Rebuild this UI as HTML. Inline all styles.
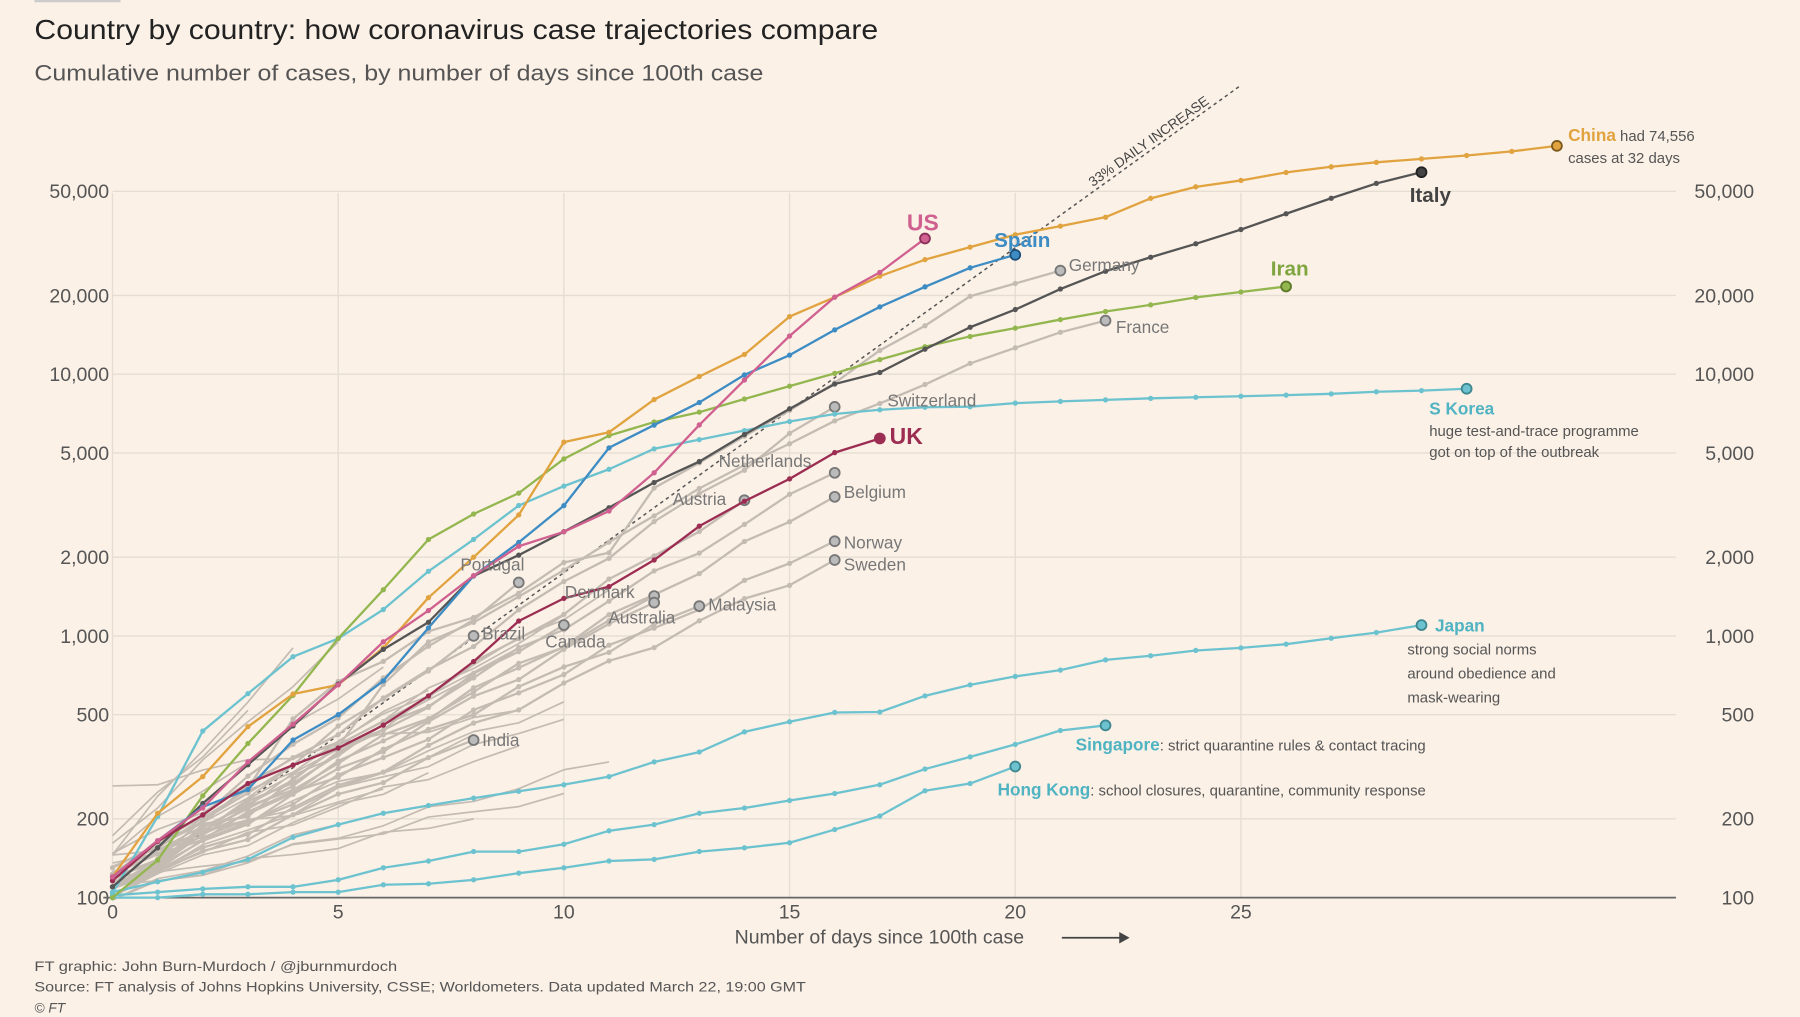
<!DOCTYPE html>
<html><head><meta charset="utf-8"><style>
html,body{margin:0;padding:0;background:#fbf1e7;}
svg{display:block}
text{font-family:"Liberation Sans",sans-serif;}
</style></head><body>
<svg id="c" width="1800" height="1017" viewBox="0 0 1568 886" preserveAspectRatio="none" xmlns="http://www.w3.org/2000/svg">
<rect width="1568" height="886" fill="#fbf1e7"/>
<rect x="30" y="0" width="75" height="2" fill="#ccc"/>
<text x="30" y="34" font-size="24" fill="#222" textLength="735" lengthAdjust="spacingAndGlyphs">Country by country: how coronavirus case trajectories compare</text>
<text x="30" y="70" font-size="19" fill="#555" textLength="635" lengthAdjust="spacingAndGlyphs">Cumulative number of cases, by number of days since 100th case</text>
<g id="grid"></g>
<g id="gray"></g>
<g id="main"></g>
<g id="labels" font-size="15" fill="#777"></g>
<text x="30" y="846" font-size="12" fill="#555" textLength="316" lengthAdjust="spacingAndGlyphs">FT graphic: John Burn-Murdoch / @jburnmurdoch</text>
<text x="30" y="864" font-size="12" fill="#555" textLength="672" lengthAdjust="spacingAndGlyphs">Source: FT analysis of Johns Hopkins University, CSSE; Worldometers. Data updated March 22, 19:00 GMT</text>
<text x="30" y="882" font-size="12" fill="#555" font-style="italic">© FT</text>
</svg>
<script>
var NS="http://www.w3.org/2000/svg";
function X(d){return 98+39.32*d;}
function Y(v){return 782-228*Math.log10(v/100);}
function el(p,t,a,txt){var e=document.createElementNS(NS,t);for(var k in a)e.setAttribute(k,a[k]);if(txt!==undefined)e.textContent=txt;p.appendChild(e);return e;}
var grid=document.getElementById('grid'),gray=document.getElementById('gray'),main=document.getElementById('main'),lab=document.getElementById('labels');
var ticks=[[100,"100"],[200,"200"],[500,"500"],[1000,"1,000"],[2000,"2,000"],[5000,"5,000"],[10000,"10,000"],[20000,"20,000"],[50000,"50,000"]];
ticks.forEach(function(t){var y=Y(t[0]);
 if(t[0]>100)el(grid,'line',{x1:98,x2:1460,y1:y,y2:y,stroke:'#e6ddd3','stroke-width':1.2});
 el(grid,'text',{x:95,y:y+6,'text-anchor':'end','font-size':17,fill:'#555'},t[1]);
 el(grid,'text',{x:1528,y:y+6,'text-anchor':'end','font-size':17,fill:'#555'},t[1]);});
for(var d=0;d<=25;d+=5){el(grid,'line',{x1:X(d),x2:X(d),y1:168,y2:782,stroke:'#e6ddd3','stroke-width':1.2});
 el(grid,'text',{x:X(d),y:800,'text-anchor':'middle','font-size':17,fill:'#555'},String(d));}
el(grid,'line',{x1:90,x2:1460,y1:782,y2:782,stroke:'#666','stroke-width':1.5});
el(grid,'text',{x:766,y:822,'text-anchor':'middle','font-size':17,fill:'#555'},"Number of days since 100th case");
el(grid,'line',{x1:925,x2:980,y1:817,y2:817,stroke:'#444','stroke-width':1.5});
el(grid,'path',{d:'M975,812 L984,817 L975,822 Z',fill:'#444'});
el(grid,'line',{x1:98,y1:782,x2:1080,y2:75,stroke:'#555','stroke-width':1.3,'stroke-dasharray':'3,3'});
el(grid,'text',{x:0,y:0,'font-size':12,fill:'#444',transform:'translate(952,163) rotate(-35.7)'},"33% DAILY INCREASE");

function series(p,vals,col,end,w,mk){var pts=vals.map(function(v,i){return X(i).toFixed(1)+','+Y(v).toFixed(1);});
 el(p,'polyline',{points:pts.join(' '),fill:'none',stroke:col,'stroke-width':w||2,'stroke-linejoin':'round'});
 if(mk!==false)vals.forEach(function(v,i){el(p,'circle',{cx:X(i),cy:Y(v),r:2.3,fill:col});});
 if(end){var i=vals.length-1;el(p,'circle',{cx:X(i),cy:Y(vals[i]),r:4.3,fill:end[0],stroke:end[1],'stroke-width':1.6});}}
function geo(a,b,n){var r=[];for(var i=0;i<=n;i++)r.push(a*Math.pow(b/a,i/n)*(1+0.04*Math.sin(i*2.1+a)));r[n]=b;return r;}
var G='#c4bcb3';
var extras=[[130,560,10],[110,420,8],[150,900,4],[120,700,8],[105,300,7],[140,260,6],[100,330,11],[115,380,9],[125,1200,10],[160,950,5],[135,480,10],[108,200,8],[260,520,9],[145,620,7],[118,900,9],[100,190,5],[170,520,3],[128,1500,11],[112,250,10],[150,760,6]];
extras.forEach(function(e){series(gray,geo(e[0],e[1],e[2]),G,null,1.5,false);});
var grays=[[120,7500,16],[115,4200,16],[110,3300,14],[110,3400,16],[110,2300,16],[105,1950,16],[120,1300,13],[115,1420,12],[105,1340,12],[120,1600,9],[110,1000,8],[110,1100,10],[105,400,8]];
grays.forEach(function(g){series(gray,geo(g[0],g[1],g[2]),G,['#bbb','#777'],2);});
series(gray,[130,159,196,262,482,670,799,1040,1176,1457,1908,2078,3675,4585,5795,7272,9257,12327,15320,19848,22213,24873],G,['#bbb','#777'],2);
series(gray,[100,130,191,204,285,377,653,949,1126,1412,1784,2281,2876,3661,4499,5423,6633,7730,9134,10995,12612,14459,16018],G,['#bbb','#777'],2);
var C='#6cc3cf';
series(main,[104,204,433,602,833,977,1261,1766,2337,3150,3736,4335,5186,5621,6088,6593,7041,7314,7478,7513,7755,7869,7979,8086,8162,8236,8320,8413,8565,8652,8799],C,[C,'#3f8790']);
series(main,[105,115,125,140,170,190,210,225,240,255,270,290,330,360,430,470,510,512,590,650,700,740,810,840,880,900,930,980,1030,1100],C,[C,'#3f8790']);
series(main,[102,105,108,110,110,117,130,138,150,150,160,180,190,210,220,235,250,270,310,345,385,435,455],C,[C,'#3f8790']);
series(main,[100,100,103,103,105,105,112,113,117,124,130,138,140,150,155,162,182,205,256,273,317],C,[C,'#3f8790']);
series(main,[100,139,245,388,593,978,1501,2336,2922,3513,4747,5823,6566,7161,8042,9000,10075,11364,12729,13938,14991,16169,17361,18407,19644,20610,21638],'#93b64f',['#93b64f','#5c7a2a']);
series(main,[120,210,290,450,600,650,900,1400,2000,2900,5500,6000,8000,9800,11900,16600,19700,23700,27400,30600,34100,36800,39800,47000,52000,55000,59000,62000,64500,66500,68500,71000,74556],'#e1a33f',['#e1a33f','#7a5a1c']);
series(main,[110,155,229,322,453,655,888,1128,1694,2036,2502,3089,3858,4636,5883,7375,9172,10149,12462,15113,17660,21157,24747,27980,31506,35713,41035,47021,53578,59138],'#555',['#444','#222']);
series(main,[120,165,222,259,400,500,673,1073,1695,2277,3146,5232,6391,7798,9942,11826,14769,18077,21571,25496,28572],'#3d8cc4',['#3d8cc4','#1d4f78']);
series(main,[116,164,207,273,321,373,456,590,798,1140,1391,1543,1950,2626,3269,3983,5018,5683],'#9c2d52',['#9c2d52','#9c2d52']);
series(main,[120,165,220,330,460,650,950,1250,1700,2200,2500,3000,4200,6400,9500,14000,19700,24500,33000],'#d0608f',['#d0608f','#8a2f58']);
function T(x,y,s,o){var a={x:x,y:y};for(var k in o)a[k]=o[k];return el(lab,'text',a,s);}
function T2(x,y,a,b,col,fs){var t=el(lab,'text',{x:x,y:y});el(t,'tspan',{fill:col,'font-weight':'bold','font-size':fs||15},a);el(t,'tspan',{fill:'#555','font-size':13},b);}
T2(1366,123,"China"," had 74,556",'#e1a33f');
T(1366,142,"cases at 32 days",{fill:'#555','font-size':13});
T(1228,176,"Italy",{fill:'#444','font-weight':'bold','font-size':18});
T(790,201,"US",{fill:'#d0608f','font-weight':'bold','font-size':20});
T(866,215,"Spain",{fill:'#3d8cc4','font-weight':'bold','font-size':18});
T(931,236,"Germany",{});
T(1107,240,"Iran",{fill:'#7fa53f','font-weight':'bold','font-size':18});
T(972,290,"France",{});
T(773,354,"Switzerland",{});
T(775,387,"UK",{fill:'#9c2d52','font-weight':'bold','font-size':20});
T(1245,361,"S Korea",{fill:'#4fb3c2','font-weight':'bold','font-size':15});
T(1245,380,"huge test-and-trace programme",{fill:'#555','font-size':13});
T(1245,398,"got on top of the outbreak",{fill:'#555','font-size':13});
T(626,407,"Netherlands",{});T(586,440,"Austria",{});T(735,434,"Belgium",{});
T(735,478,"Norway",{});T(735,497,"Sweden",{});T(401,497,"Portugal",{});
T(492,521,"Denmark",{});T(617,532,"Malaysia",{});T(530,543,"Australia",{});
T(420,557,"Brazil",{});T(475,564,"Canada",{});T(420,650,"India",{});
T(1250,550,"Japan",{fill:'#4fb3c2','font-weight':'bold','font-size':15});
T(1226,570,"strong social norms",{fill:'#555','font-size':13});
T(1226,591,"around obedience and",{fill:'#555','font-size':13});
T(1226,612,"mask-wearing",{fill:'#555','font-size':13});
T2(937,654,"Singapore",": strict quarantine rules & contact tracing",'#4fb3c2');
T2(869,693,"Hong Kong",": school closures, quarantine, community response",'#4fb3c2');
</script>
</body></html>
